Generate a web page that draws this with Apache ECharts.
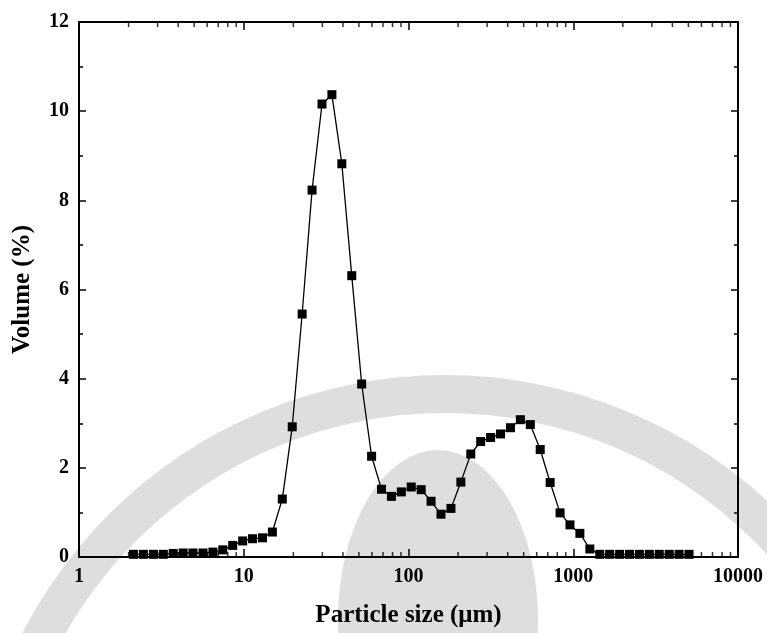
<!DOCTYPE html>
<html>
<head>
<meta charset="utf-8">
<script src="https://cdn.jsdelivr.net/npm/echarts@6/dist/echarts.min.js"></script>
<style>
  html, body { margin: 0; padding: 0; background: #ffffff; }
  #chart { width: 767px; height: 633px; }
</style>
</head>
<body>
<div id="chart"></div>
<script>
// Particle size bins (µm), geometric spacing of 5 bins per octave
const particleSize = [
  2.14, 2.46, 2.83, 3.25, 3.73, 4.29, 4.92, 5.66, 6.50, 7.46,
  8.57, 9.85, 11.31, 12.99, 14.92, 17.14, 19.69, 22.62, 25.98, 29.85,
  34.28, 39.38, 45.24, 51.97, 59.70, 68.57, 78.77, 90.49, 103.9, 119.4,
  137.1, 157.5, 181.0, 207.9, 238.8, 274.3, 315.1, 362.0, 415.8, 477.7,
  548.7, 630.3, 724.0, 831.7, 955.4, 1097, 1261, 1448, 1663, 1911,
  2195, 2521, 2896, 3327, 3822, 4390, 5043
];

// Volume fraction in each bin (%)
const volumePercent = [
  0.06, 0.06, 0.06, 0.06, 0.08, 0.09, 0.09, 0.09, 0.11, 0.16,
  0.26, 0.36, 0.41, 0.43, 0.56, 1.30, 2.92, 5.45, 8.23, 10.16,
  10.37, 8.82, 6.31, 3.88, 2.26, 1.52, 1.36, 1.46, 1.57, 1.51,
  1.25, 0.96, 1.09, 1.68, 2.31, 2.59, 2.68, 2.76, 2.90, 3.08,
  2.97, 2.41, 1.67, 0.99, 0.72, 0.53, 0.18, 0.06, 0.06, 0.06,
  0.06, 0.06, 0.06, 0.06, 0.06, 0.06, 0.06
];

// Axis ranges and tick values
const xRange = [1, 10000];
const yRange = [0, 12];
const yStep = 2;
const xMinorTicks = [
  2, 3, 4, 5, 6, 7, 8, 9,
  20, 30, 40, 50, 60, 70, 80, 90,
  200, 300, 400, 500, 600, 700, 800, 900,
  2000, 3000, 4000, 5000, 6000, 7000, 8000, 9000
];

const FONT = '"Liberation Serif", "Times New Roman", serif';
const INK = '#000000';
const WASH = '#dedede';

const chart = echarts.init(document.getElementById('chart'), null, { renderer: 'canvas' });

const axisLine = { show: true, onZero: false, lineStyle: { color: INK, width: 2 } };

const option = {
  backgroundColor: '#ffffff',
  animation: false,
  // faint emblem behind the plot
  graphic: [
    {
      type: 'ring', silent: true, z: -10,
      shape: { cx: 445, cy: 850, r: 475, r0: 437 },
      style: { fill: WASH }
    },
    {
      type: 'circle', silent: true, z: -10,
      x: 438, y: 620, scaleY: 1.7,
      shape: { cx: 0, cy: 0, r: 100 },
      style: { fill: WASH }
    }
  ],
  grid: { left: 79, right: 29, top: 22, bottom: 76, containLabel: false },
  xAxis: [
    {
      type: 'log', logBase: 10, min: xRange[0], max: xRange[1],
      position: 'bottom',
      axisLine: axisLine,
      axisTick: { show: true, inside: true, length: 8, lineStyle: { color: INK, width: 1.5 } },
      axisLabel: {
        show: true, margin: 10, color: INK,
        fontFamily: FONT, fontWeight: 'bold', fontSize: 20,
        formatter: v => String(Math.round(v))
      },
      splitLine: { show: false },
      name: 'Particle size (μm)',
      nameLocation: 'middle', nameGap: 46,
      nameTextStyle: { color: INK, fontFamily: FONT, fontWeight: 'bold', fontSize: 25 }
    },
    {
      type: 'log', logBase: 10, min: xRange[0], max: xRange[1],
      position: 'top',
      axisLine: axisLine,
      axisTick: { show: true, inside: true, length: 8, lineStyle: { color: INK, width: 1.5 } },
      axisLabel: { show: false },
      splitLine: { show: false }
    }
  ],
  yAxis: [
    {
      type: 'value', min: yRange[0], max: yRange[1], interval: yStep,
      position: 'left',
      axisLine: axisLine,
      axisTick: { show: true, inside: true, length: 7, lineStyle: { color: INK, width: 1.5 } },
      minorTick: { show: true, splitNumber: 2, length: 4, lineStyle: { color: INK, width: 1.5 } },
      axisLabel: {
        show: true, margin: 10, color: INK,
        fontFamily: FONT, fontWeight: 'bold', fontSize: 20
      },
      splitLine: { show: false },
      minorSplitLine: { show: false },
      name: 'Volume (%)',
      nameLocation: 'middle', nameGap: 44, nameRotate: 90,
      nameTextStyle: { color: INK, fontFamily: FONT, fontWeight: 'bold', fontSize: 25 }
    },
    {
      type: 'value', min: yRange[0], max: yRange[1], interval: yStep,
      position: 'right',
      axisLine: axisLine,
      axisTick: { show: true, inside: true, length: 7, lineStyle: { color: INK, width: 1.5 } },
      minorTick: { show: true, splitNumber: 2, length: 4, lineStyle: { color: INK, width: 1.5 } },
      axisLabel: { show: false },
      splitLine: { show: false },
      minorSplitLine: { show: false }
    }
  ],
  series: [
    {
      // minor ticks of the log axis, bottom edge
      type: 'scatter', silent: true, z: 3,
      xAxisIndex: 0, yAxisIndex: 0,
      symbol: 'rect', symbolSize: [1.5, 5], symbolOffset: [0, -2.5],
      itemStyle: { color: INK },
      data: xMinorTicks.map(v => [v, yRange[0]])
    },
    {
      // minor ticks of the log axis, top edge
      type: 'scatter', silent: true, z: 3,
      xAxisIndex: 1, yAxisIndex: 0,
      symbol: 'rect', symbolSize: [1.5, 5], symbolOffset: [0, 2.5],
      itemStyle: { color: INK },
      data: xMinorTicks.map(v => [v, yRange[1]])
    },
    {
      name: 'Volume',
      type: 'line', z: 5,
      xAxisIndex: 0, yAxisIndex: 0,
      symbol: 'rect', symbolSize: 9,
      showAllSymbol: true,
      lineStyle: { color: INK, width: 1.3 },
      itemStyle: { color: INK },
      data: particleSize.map((s, i) => [s, volumePercent[i]])
    }
  ]
};

chart.setOption(option);
</script>
</body>
</html>
